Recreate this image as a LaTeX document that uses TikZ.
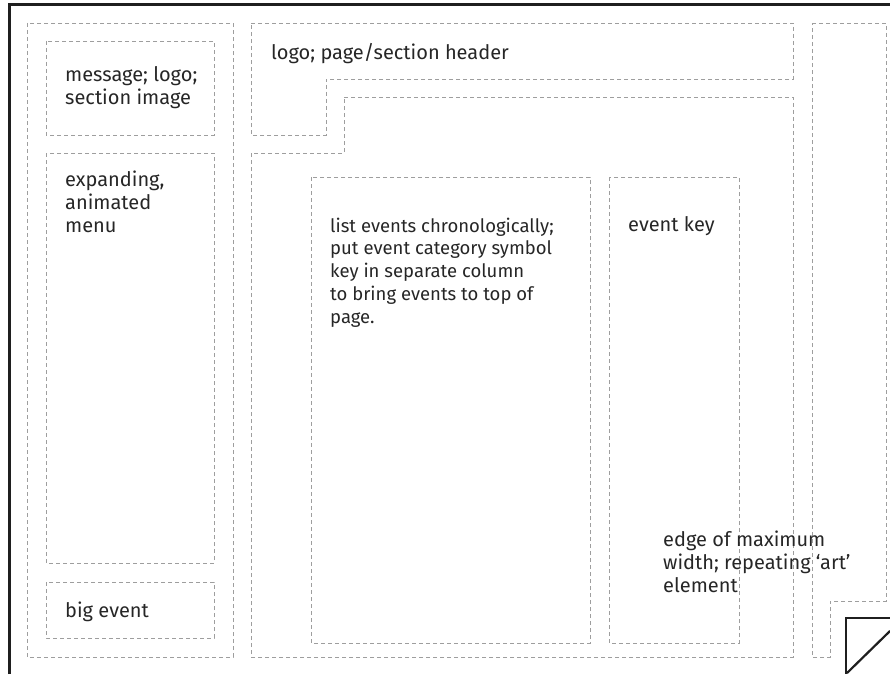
\documentclass[tikz,border=0pt]{standalone}
\usepackage{fontspec}
\setmainfont{Fira Sans}
\usepackage{tikz}
\usetikzlibrary{positioning}

\begin{document}
\begin{tikzpicture}[x=1pt,y=-1pt,
                zone/.style={draw=black!38,line width=0.9pt,
                    dash pattern=on 4pt off 3pt},
                edge/.style={draw=black!88,line width=3pt},
                lbl/.style={anchor=north west,inner sep=0pt,align=left,
                    text=black!85,font=\fontsize{20}{23}\selectfont}]
                \useasboundingbox (0,0) rectangle (890,674);
                % page edge
                \draw[edge] (9.5,674) -- (9.5,4.5) -- (890,4.5);
                % left column
                \draw[zone] (27,23) rectangle (233,657);
                \draw[zone] (46,41) rectangle (214,135);
                \draw[zone] (46,153) rectangle (214,563);
                \draw[zone] (46,582) rectangle (214,638);
                % header and main area
                \draw[zone] (251,23) -- (793,23) -- (793,79) -- (326,79)
                    -- (326,135) -- (251,135) -- cycle;
                \draw[zone] (344,97) -- (793,97) -- (793,657) -- (251,657)
                    -- (251,153) -- (344,153) -- cycle;
                \draw[zone] (311,177) rectangle (590,643);
                \draw[zone] (609,177) rectangle (739,643);
                % right column
                \draw[zone] (812,23) -- (886,23) -- (886,601) -- (830,601)
                    -- (830,657) -- (812,657) -- cycle;
                % page curl
                \draw[edge,line width=2.6pt] (890,618) -- (846,618) -- (846,674);
                \draw[edge,line width=2.2pt] (847,673) -- (890,631);
                \node[lbl](msg) at (65,66) {message; logo;\\section image};
                \node[lbl](hdr) at (271,43.5) {logo; page/section header};
                \node[lbl](menu) at (65,170.5) {expanding,\\animated\\menu};
                \node[lbl](bigev) at (65,602) {big event};
                \node[lbl,font=\fontsize{18.5}{22.8}\selectfont](list) at (330,217.5) {list events chronologically;\\put event category symbol\\key in separate column\\to bring events to top of\\page.};
                \node[lbl](key) at (628,216.5) {event key};
                \node[lbl](maxw) at (663,531) {edge of maximum\\width; repeating ‘art’\\element};
            \end{tikzpicture}
\end{document}
